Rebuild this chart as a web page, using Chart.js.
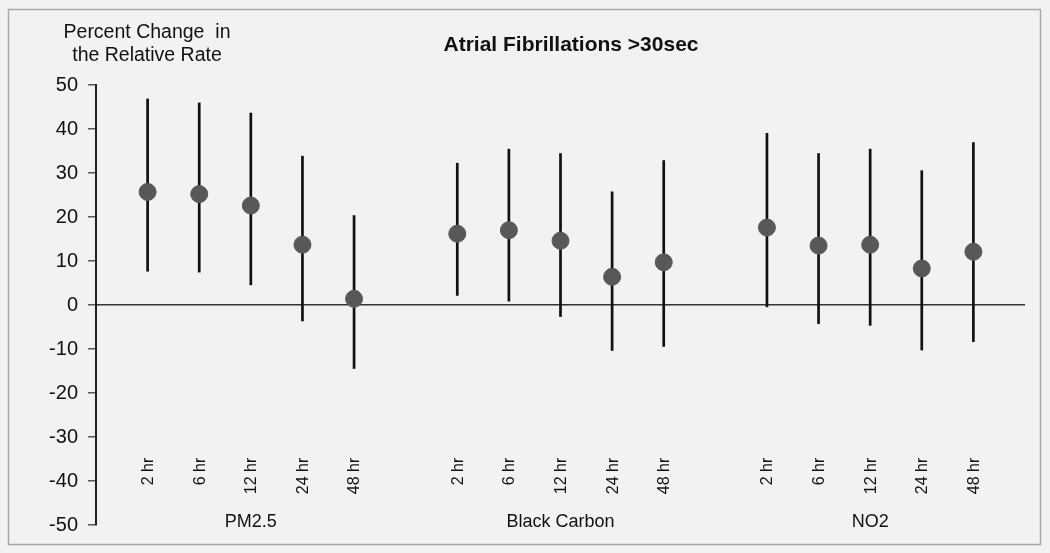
<!DOCTYPE html>
<html>
<head>
<meta charset="utf-8">
<script src="https://cdn.jsdelivr.net/npm/chart.js@4.4.1/dist/chart.umd.min.js"></script>
<style>
  body { margin: 0; background: #f2f2f2; }
  #wrap { width: 1050px; height: 553px; position: relative; }
</style>
</head>
<body>
<div id="wrap"><canvas id="myChart" width="1050" height="553"></canvas></div>
<script>
// pollutants and lag times
var groups = ['PM2.5', 'Black Carbon', 'NO2'];
var lags = ['2 hr', '6 hr', '12 hr', '24 hr', '48 hr'];

// percent change (point estimate) and 95% CI, per group, per lag
var estPM = [25.7, 25.2, 22.6, 13.7, 1.4];
var lowPM = [7.6, 7.4, 4.5, -3.7, -14.5];
var highPM = [46.9, 46.0, 43.7, 33.9, 20.4];

var estBC = [16.2, 17.0, 14.6, 6.4, 9.7];
var lowBC = [2.1, 0.8, -2.7, -10.4, -9.5];
var highBC = [32.3, 35.5, 34.5, 25.8, 32.9];

var estNO2 = [17.6, 13.5, 13.7, 8.3, 12.1];
var lowNO2 = [-0.5, -4.3, -4.7, -10.3, -8.4];
var highNO2 = [39.1, 34.5, 35.5, 30.6, 37.0];

var yTicks = [-50, -40, -30, -20, -10, 0, 10, 20, 30, 40, 50];

var est = [estPM, estBC, estNO2];
var low = [lowPM, lowBC, lowNO2];
var high = [highPM, highBC, highNO2];

// one empty slot between groups
var points = [];
var labelPos = [];
groups.forEach(function(g, gi) {
  lags.forEach(function(l, li) {
    var x = gi * (lags.length + 1) + li;
    points.push({ x: x, y: est[gi][li], lo: low[gi][li], hi: high[gi][li], lag: l });
  });
  labelPos.push({ x: gi * (lags.length + 1) + (lags.length - 1) / 2, name: g });
});

var FONT = '"Liberation Sans", Arial, sans-serif';

var decor = {
  id: 'decor',
  beforeDatasetsDraw: function(chart) {
    var c = chart.ctx, xs = chart.scales.x, ys = chart.scales.y;
    c.save();
    // error bars
    c.strokeStyle = '#111';
    c.lineWidth = 2.7;
    points.forEach(function(p) {
      var px = xs.getPixelForValue(p.x);
      c.beginPath();
      c.moveTo(px, ys.getPixelForValue(p.hi));
      c.lineTo(px, ys.getPixelForValue(p.lo));
      c.stroke();
    });
    c.restore();
  },
  afterDraw: function(chart) {
    var c = chart.ctx, xs = chart.scales.x, ys = chart.scales.y;
    c.save();
    c.fillStyle = '#111';
    // lag labels, rotated
    c.font = '16px ' + FONT;
    points.forEach(function(p) {
      c.save();
      c.translate(xs.getPixelForValue(p.x) + 1, ys.getPixelForValue(-34.7));
      c.rotate(-Math.PI / 2);
      c.textAlign = 'right';
      c.textBaseline = 'middle';
      c.fillText(p.lag, 0, 0);
      c.restore();
    });
    // group names
    c.font = '18px ' + FONT;
    c.textAlign = 'center';
    c.textBaseline = 'middle';
    labelPos.forEach(function(g) {
      c.fillText(g.name, xs.getPixelForValue(g.x), ys.getPixelForValue(-49.3));
    });
    // axis title
    c.font = '19.5px ' + FONT;
    c.fillText('Percent Change  in', 147, 33);
    c.fillText('the Relative Rate', 147, 56);
    // chart title
    c.font = 'bold 21px ' + FONT;
    c.fillText('Atrial Fibrillations >30sec', 571, 45);
    // frame
    c.strokeStyle = '#a8a8a8';
    c.lineWidth = 1.5;
    c.strokeRect(8.5, 9.5, 1032, 535);
    c.restore();
  }
};

const ctx = document.getElementById('myChart');
var chart = new Chart(ctx, {
  type: 'scatter',
  data: {
    datasets: [{
      data: points,
      backgroundColor: '#585858',
      borderColor: '#585858',
      pointRadius: 8.5,
      pointHoverRadius: 8.5
    }]
  },
  options: {
    responsive: false,
    animation: false,
    layout: { padding: { top: 85, bottom: 28, right: 25, left: 0 } },
    plugins: { legend: { display: false }, tooltip: { enabled: false } },
    scales: {
      x: {
        type: 'linear',
        display: false,
        min: -1,
        max: 17
      },
      y: {
        min: -50,
        max: 50,
        afterBuildTicks: function(scale) {
          scale.ticks = yTicks.map(function(v) { return { value: v }; });
        },
        afterFit: function(scale) { scale.width = 96; },
        border: { display: true, color: '#222', width: 2 },
        grid: {
          drawOnChartArea: true,
          color: function(c) { return c.tick && c.tick.value === 0 ? '#333' : 'rgba(0,0,0,0)'; },
          lineWidth: 1.5,
          tickColor: '#555',
          tickLength: 8
        },
        ticks: {
          color: '#111',
          padding: 10,
          font: { family: FONT, size: 20 }
        }
      }
    }
  },
  plugins: [decor]
});
</script>
</body>
</html>
